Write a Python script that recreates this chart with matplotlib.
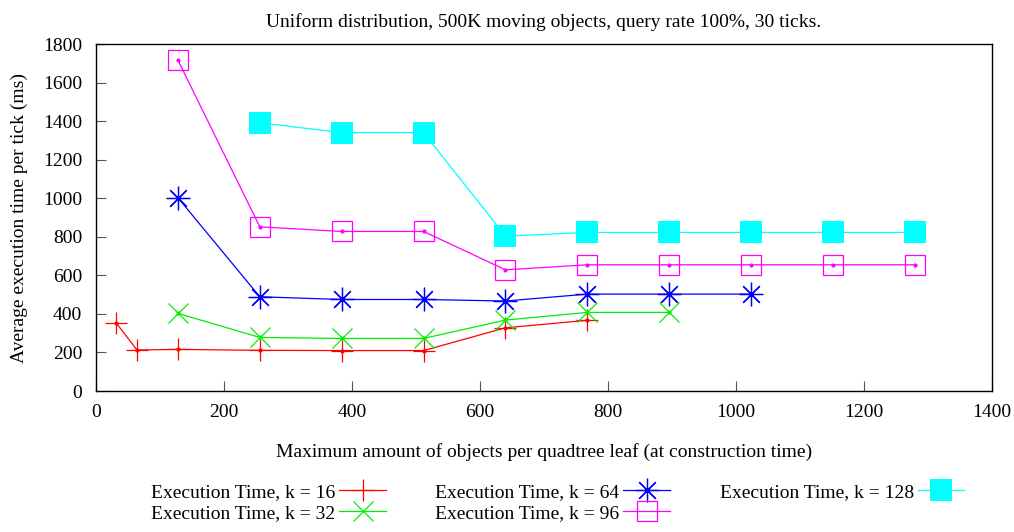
import matplotlib
matplotlib.use('Agg')
import matplotlib.pyplot as plt

plt.rcParams['font.family'] = 'Liberation Serif'
plt.rcParams['font.size'] = 14

# max objects per leaf and average execution time (ms) per k
x16 = [32, 64, 128, 256, 384, 512, 640, 768]
y16 = [351, 213, 216, 211, 210, 210, 328, 367]
x32 = [128, 256, 384, 512, 640, 768, 896]
y32 = [403, 278, 273, 273, 368, 408, 408]
x64 = [128, 256, 384, 512, 640, 768, 896, 1024]
y64 = [1003, 489, 475, 475, 467, 503, 503, 503]
x96 = [128, 256, 384, 512, 640, 768, 896, 1024, 1152, 1280]
y96 = [1717, 852, 828, 828, 629, 655, 655, 655, 655, 655]
x128 = [256, 384, 512, 640, 768, 896, 1024, 1152, 1280]
y128 = [1392, 1341, 1341, 804, 823, 823, 823, 823, 823]

fig = plt.figure(figsize=(10.14, 5.32), dpi=100)
ax = fig.add_axes([0.0947, 0.265, 0.8833, 0.652])

lw = 0.9
h16, = ax.plot(x16, y16, color='#ff0000', lw=lw, marker='+', ms=16, mew=0.9)
h32, = ax.plot(x32, y32, color='#00ee00', lw=lw, marker='x', ms=15, mew=0.9)
h64, = ax.plot(x64, y64, color='#0000ff', lw=lw, marker=(8, 2, 0), ms=17, mew=0.9)
h96, = ax.plot(x96, y96, color='#ff00ff', lw=lw, marker='s', ms=15, mew=0.9,
               mfc='none')
h128, = ax.plot(x128, y128, color='#00ffff', lw=lw, marker='s', ms=16.5, mew=0)
# small centre dots like gnuplot draws
for xs, ys, c in [(x16, y16, '#ff0000'), (x32, y32, '#00ee00'),
                  (x64, y64, '#0000ff'), (x96, y96, '#ff00ff')]:
    ax.plot(xs, ys, ls='none', marker='o', ms=2, color=c)

ax.set_xlim(0, 1400)
ax.set_ylim(0, 1800)
ax.set_xticks(range(0, 1401, 200))
ax.set_yticks(range(0, 1801, 200))
ax.tick_params(direction='in', length=7, width=0.8, color='#555555', pad=9)
ax.tick_params(axis='y', pad=10)
for s in ax.spines.values():
    s.set_linewidth(1.0)

ax.set_title('Uniform distribution, 500K moving objects, query rate 100%, 30 ticks.',
             fontsize=14, pad=12)
ax.set_xlabel('Maximum amount of objects per quadtree leaf (at construction time)',
              labelpad=16)
ax.set_ylabel('Average execution time per tick (ms)', labelpad=11)

labels = ['Execution Time, k = 16', 'Execution Time, k = 32',
          'Execution Time, k = 64', 'Execution Time, k = 96',
          'Execution Time, k = 128']
fig.legend([h16, h32, h64, h96, h128], labels, ncol=3, loc='center',
           bbox_to_anchor=(0.550, 0.055), frameon=False, markerfirst=False,
           handlelength=2.4, columnspacing=2.55, labelspacing=0.2,
           handletextpad=0.2)

fig.savefig('out.png', dpi=100)
